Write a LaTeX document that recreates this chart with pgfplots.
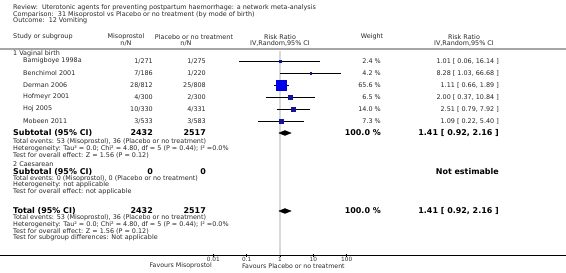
\documentclass[border=0pt]{standalone}
\usepackage{pgfplots}
\pgfplotsset{compat=1.18}
\usepackage{fontspec}
\setmainfont{DejaVu Sans}
\newcommand{\nf}{\fontsize{6.45}{7}\selectfont}
\newcommand{\ff}{\fontsize{6.3}{7}\selectfont}
\newcommand{\bff}{\fontsize{8}{9}\selectfont\bfseries}
\definecolor{sqblue}{RGB}{0,0,230}
\definecolor{sqdark}{RGB}{20,20,150}
\begin{document}
\begin{tikzpicture}[x=1bp,y=1bp]
\begin{axis}[at={(0,0)}, anchor=north west, scale only axis,
  width=566bp, height=255bp,
  xmode=log, xmin=4.02e-9, xmax=3.77e8, ymin=-255, ymax=0,
  axis x line*=bottom, axis y line=none,
  x axis line style={-, line width=0.7bp, black},
  xtick={0.01,0.1,1,10,100}, xticklabels={0.01,0.1,1,10,100},
  xminorticks=false, minor xtick={}, tick align=center, major tick length=3bp,
  tick style={black, line width=0.5bp},
  xticklabel style={font=\fontsize{5.8}{6}\selectfont, inner sep=0.6bp, text=black!80},
  clip=false]
% reference line at RR = 1
\addplot[color=gray!30, line width=2bp] coordinates {(1,-51) (1,-255)};
% squares (size ~ weight)
\addplot[only marks, mark=square*, mark size=0.7bp, mark options={fill=sqdark, draw=sqdark}] coordinates {(1.01,-61)};
\addplot[only marks, mark=square*, mark size=0.9bp, mark options={fill=sqdark, draw=sqdark}] coordinates {(8.28,-73)};
\addplot[only marks, mark=square*, mark size=5bp, mark options={fill=sqblue, draw=sqblue}] coordinates {(1.11,-85)};
\addplot[only marks, mark=square*, mark size=1.7bp, mark options={fill=sqdark, draw=sqdark}] coordinates {(2.00,-97)};
\addplot[only marks, mark=square*, mark size=2.1bp, mark options={fill=sqdark, draw=sqdark}] coordinates {(2.51,-109)};
\addplot[only marks, mark=square*, mark size=1.8bp, mark options={fill=sqdark, draw=sqdark}] coordinates {(1.09,-121)};
% confidence intervals
\addplot[black, line width=0.5bp] coordinates {(0.06,-61) (16.14,-61)};
\addplot[black, line width=0.5bp] coordinates {(1.03,-73) (66.68,-73)};
\addplot[black, line width=0.5bp] coordinates {(0.66,-85) (1.89,-85)};
\addplot[black, line width=0.5bp] coordinates {(0.37,-97) (10.84,-97)};
\addplot[black, line width=0.5bp] coordinates {(0.79,-109) (7.92,-109)};
\addplot[black, line width=0.5bp] coordinates {(0.22,-121) (5.40,-121)};
% pooled diamonds
\addplot[fill=black, draw=black, line width=0.3bp] coordinates {(0.92,-133) (1.41,-130.5) (2.16,-133) (1.41,-135.5) (0.92,-133)};
\addplot[fill=black, draw=black, line width=0.3bp] coordinates {(0.92,-211) (1.41,-208.5) (2.16,-211) (1.41,-213.5) (0.92,-211)};
\end{axis}
% header rule
\draw[color=gray!70, line width=2bp] (0,-49) -- (566,-49);
\begin{scope}[every node/.style={font=\nf, inner sep=0pt, text=black!85}]
\node[anchor=west] at (13,-8) {Review:\ \ Uterotonic agents for preventing postpartum haemorrhage: a network meta-analysis};
\node[anchor=west] at (13,-14.5) {Comparison:\ \ 31 Misoprostol vs Placebo or no treatment (by mode of birth)};
\node[anchor=west] at (13,-21) {Outcome:\ \ 12 Vomiting};
% column headers
\node[anchor=west] at (13,-37) {Study or subgroup};
\node at (126,-37) {Misoprostol};
\node at (126,-43.5) {n/N};
\node at (194,-37) {Placebo or no treatment};
\node at (186,-43.5) {n/N};
\node at (280,-37) {Risk Ratio};
\node at (280,-43.5) {IV,Random,95\% CI};
\node at (372,-37) {Weight};
\node at (464,-37) {Risk Ratio};
\node at (464,-43.5) {IV,Random,95\% CI};
% subgroup 1
\node[anchor=west] at (13,-53.5) {1 Vaginal birth};
\node[anchor=west] at (23,-61) {Bamigboye 1998a};
\node[anchor=west] at (23,-73) {Benchimol 2001};
\node[anchor=west] at (23,-85) {Derman 2006};
\node[anchor=west] at (23,-97) {Hofmeyr 2001};
\node[anchor=west] at (23,-109) {Hoj 2005};
\node[anchor=west] at (23,-121) {Mobeen 2011};
\node[anchor=east] at (153,-61) {1/271};
\node[anchor=east] at (153,-73) {7/186};
\node[anchor=east] at (153,-85) {28/812};
\node[anchor=east] at (153,-97) {4/300};
\node[anchor=east] at (153,-109) {10/330};
\node[anchor=east] at (153,-121) {3/533};
\node[anchor=east] at (206,-61) {1/275};
\node[anchor=east] at (206,-73) {1/220};
\node[anchor=east] at (206,-85) {25/808};
\node[anchor=east] at (206,-97) {2/300};
\node[anchor=east] at (206,-109) {4/331};
\node[anchor=east] at (206,-121) {3/583};
\node[anchor=east] at (381,-61) {2.4 \%};
\node[anchor=east] at (381,-73) {4.2 \%};
\node[anchor=east] at (381,-85) {65.6 \%};
\node[anchor=east] at (381,-97) {6.5 \%};
\node[anchor=east] at (381,-109) {14.0 \%};
\node[anchor=east] at (381,-121) {7.3 \%};
\node[anchor=east] at (499,-61) {1.01 [ 0.06, 16.14 ]};
\node[anchor=east] at (499,-73) {8.28 [ 1.03, 66.68 ]};
\node[anchor=east] at (499,-85) {1.11 [ 0.66, 1.89 ]};
\node[anchor=east] at (499,-97) {2.00 [ 0.37, 10.84 ]};
\node[anchor=east] at (499,-109) {2.51 [ 0.79, 7.92 ]};
\node[anchor=east] at (499,-121) {1.09 [ 0.22, 5.40 ]};
\node[anchor=west] at (13,-142) {Total events: 53 (Misoprostol), 36 (Placebo or no treatment)};
\node[anchor=west] at (13,-148.5) {Heterogeneity: Tau² = 0.0; Chi² = 4.80, df = 5 (P = 0.44); I² =0.0\%};
\node[anchor=west] at (13,-155) {Test for overall effect: Z = 1.56 (P = 0.12)};
% subgroup 2
\node[anchor=west] at (13,-164.5) {2 Caesarean};
\node[anchor=west] at (13,-178.5) {Total events: 0 (Misoprostol), 0 (Placebo or no treatment)};
\node[anchor=west] at (13,-185) {Heterogeneity: not applicable};
\node[anchor=west] at (13,-191.5) {Test for overall effect: not applicable};
% total
\node[anchor=west] at (13,-218) {Total events: 53 (Misoprostol), 36 (Placebo or no treatment)};
\node[anchor=west] at (13,-224.5) {Heterogeneity: Tau² = 0.0; Chi² = 4.80, df = 5 (P = 0.44); I² =0.0\%};
\node[anchor=west] at (13,-231) {Test for overall effect: Z = 1.56 (P = 0.12)};
\node[anchor=west] at (13,-237.5) {Test for subgroup differences: Not applicable};
% favours
\node[anchor=east, font=\ff] at (212,-266) {Favours Misoprostol};
\node[anchor=west, font=\ff] at (242,-266) {Favours Placebo or no treatment};
\end{scope}
\begin{scope}[every node/.style={font=\bff, inner sep=0pt, text=black}]
\node[anchor=west] at (13,-133) {Subtotal (95\% CI)};
\node[anchor=east] at (153,-133) {2432};
\node[anchor=east] at (206,-133) {2517};
\node[anchor=east] at (381,-133) {100.0 \%};
\node[anchor=east] at (499,-133) {1.41 [ 0.92, 2.16 ]};
\node[anchor=west] at (13,-172) {Subtotal (95\% CI)};
\node[anchor=east] at (153,-172) {0};
\node[anchor=east] at (206,-172) {0};
\node[anchor=east] at (499,-172) {Not estimable};
\node[anchor=west] at (13,-211) {Total (95\% CI)};
\node[anchor=east] at (153,-211) {2432};
\node[anchor=east] at (206,-211) {2517};
\node[anchor=east] at (381,-211) {100.0 \%};
\node[anchor=east] at (499,-211) {1.41 [ 0.92, 2.16 ]};
\end{scope}
\pgfresetboundingbox
\path[use as bounding box] (0,0) rectangle (566,-272);
\end{tikzpicture}
\end{document}
